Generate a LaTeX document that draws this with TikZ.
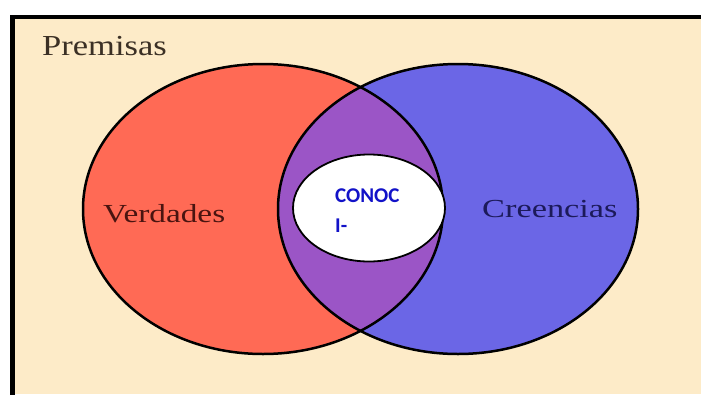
\documentclass[tikz,border=0pt]{standalone}
\usepackage{fontspec}
\setmainfont{Liberation Serif}
\newfontfamily\labelsans{Carlito}
\usetikzlibrary{shapes.geometric}

\definecolor{paper}{HTML}{FDEBC8}
\definecolor{truthred}{HTML}{FF6A55}
\definecolor{beliefblue}{HTML}{6B66E6}
\definecolor{overlap}{HTML}{9B55C6}
\definecolor{premtext}{HTML}{3B3025}
\definecolor{vertext}{HTML}{4A1410}
\definecolor{cretext}{HTML}{1C1A5A}
\definecolor{knowtext}{HTML}{1212C8}

\tikzset{
  setshape/.style={ellipse, inner sep=0pt, minimum width=360pt, minimum height=290pt},
  setline/.style={line width=2.5pt, draw=black},
  serifword/.style={inner sep=0pt, anchor=base west, font=\fontsize{26}{30}\selectfont},
  knowword/.style={inner sep=0pt, anchor=base west, text=knowtext,
    font=\labelsans\bfseries\fontsize{21}{24}\selectfont}
}

\begin{document}
\begin{tikzpicture}[x=1pt, y=-1pt]
  \useasboundingbox (0,0) rectangle (701,394);
  \fill[white] (0,0) rectangle (701,394);
  % framed background
  \fill[paper] (12,17) rectangle (701,394);
  \draw[line width=4.5pt, line cap=rect] (12.5,394) -- (12.5,17) -- (701,17);

  % the two sets
  \node[setshape, fill=truthred] (ver) at (263,209) {};
  \node[setshape, fill=beliefblue] (cre) at (458,209) {};
  \begin{scope}
    \clip (263,209) ellipse [x radius=180pt, y radius=145pt];
    \fill[overlap] (458,209) ellipse [x radius=180pt, y radius=145pt];
  \end{scope}
  \node[setshape, setline] at (ver.center) {};
  \node[setshape, setline] at (cre.center) {};

  % inner set
  \node[ellipse, inner sep=0pt, minimum width=152pt, minimum height=107pt,
        fill=white, draw=black, line width=1.8pt] (know) at (369,208) {};

  % labels
  \node[inner sep=0pt, anchor=base west, text=premtext,
        font=\fontsize{29}{32}\selectfont] (prem) at (42,55) {\scalebox{1.19}[1]{Premisas}};
  \node[serifword, text=vertext] (verl) at (103,222) {\scalebox{1.28}[1]{Verdades}};
  \node[serifword, text=cretext] (crel) at (482,217) {\scalebox{1.32}[1]{Creencias}};
  \node[knowword] (k1) at (335,202) {CONOC};
  \node[knowword] (k2) at (335,232) {I-};
\end{tikzpicture}
\end{document}
